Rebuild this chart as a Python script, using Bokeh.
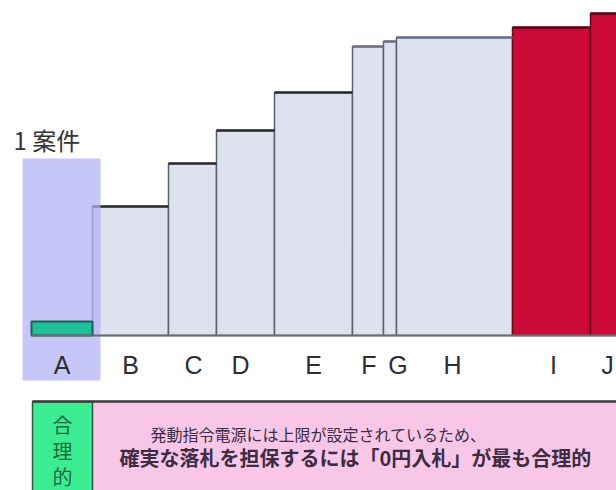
from bokeh.plotting import figure
from bokeh.models import Range1d, ColumnDataSource
from bokeh.core.properties import value
from bokeh.embed import file_html
from bokeh.resources import INLINE
import numpy as np

# Merit-order staircase: offers sorted by price, width = capacity
items = ["A", "B", "C", "D", "E", "F", "G", "H", "I", "J"]
capacity = [61, 76, 48, 58, 78, 31, 13, 116, 78, 34]
price = [14, 129, 172, 205, 243, 289, 294, 298, 308, 322]
group = ["own", "won", "won", "won", "won", "won", "won", "won", "lost", "lost"]
label_shift = [0, 0, 1, -5, 0, 1, 8, -2, 2, 0]

side_note = "1 案件"
verdict = "合理的"
note_lines = ["発動指令電源には上限が設定されているため、",
              "確実な落札を担保するには「0円入札」が最も合理的"]

start = 31
right = start + np.cumsum(capacity)
left = right - np.array(capacity)
center = (left + right) / 2

fill_map = {"own": "#1fbf9a", "won": "#dde2ee", "lost": "#cc0a38"}
edge_map = {"own": "#1d5e58", "won": "#5a6070", "lost": "#6a0a1c"}
top_map = ["#1d5e58", "#2a2a2a", "#2a2a2a", "#2a2a2a", "#2a2a2a",
           "#6a7282", "#6a7282", "#6a7282", "#5a0614", "#5a0614"]

src = ColumnDataSource(dict(
    left=left, right=right, top=price, bottom=[0] * len(items),
    fill=[fill_map[g] for g in group], edge=[edge_map[g] for g in group],
    topc=top_map, item=items, lx=center + np.array(label_shift),
    ly=[-29] * len(items),
))

p = figure(width=616, height=490, x_range=Range1d(0, 616), y_range=Range1d(-155, 335),
           toolbar_location=None, output_backend="svg", min_border=0,
           background_fill_color="white", border_fill_color="white")
p.axis.visible = False
p.grid.visible = False
p.outline_line_color = None

# price steps (everything except the highlighted own offer)
steps = ColumnDataSource({k: v[1:] for k, v in src.data.items()})
p.quad(left="left", right="right", top="top", bottom="bottom", source=steps,
       fill_color="fill", line_color="edge", line_width=1.5)
p.segment(x0="left", x1="right", y0="top", y1="top", source=steps,
          line_color="topc", line_width=2.5)

# highlight band around the single own offer
p.quad(left=[22], right=[100], top=[177], bottom=[-45],
       fill_color="#b0b0f6", fill_alpha=0.72, line_color=None)

own = ColumnDataSource({k: v[:1] for k, v in src.data.items()})
p.quad(left="left", right="right", top="top", bottom="bottom", source=own,
       fill_color="fill", line_color="edge", line_width=2)

# baseline
p.segment(x0=[left[0]], x1=[616], y0=[0], y1=[0], line_color="#6e6e6e", line_width=2)

# category labels
p.text(x="lx", y="ly", text="item", source=src, text_align="center",
       text_baseline="middle", text_font=value("Liberation Sans"),
       text_font_size="25px", text_color="#2e2e2e")

p.text(x=[13], y=[196], text=[side_note], text_align="left", text_baseline="middle",
       text_font=value("Noto Sans CJK JP"), text_font_size="24px", text_color="#333333")

# conclusion panel
p.quad(left=[92], right=[620], top=[-66], bottom=[-160],
       fill_color="#f8c6e6", line_color=None)
p.quad(left=[32], right=[92], top=[-66], bottom=[-160],
       fill_color="#3cec92", line_color="#265a3a", line_width=1.5)
p.segment(x0=[32], x1=[616], y0=[-66], y1=[-66], line_color="#3a3a3a", line_width=2.5)

p.text(x=[62, 62, 62], y=[-89, -115, -141], text=list(verdict), text_align="center",
       text_baseline="middle", text_font=value("Noto Sans CJK JP"),
       text_font_size="20px", text_color="#1e6a40")

p.text(x=[150], y=[-98], text=[note_lines[0]], text_align="left", text_baseline="middle",
       text_font=value("Noto Sans CJK JP"), text_font_size="16px", text_color="#3c2c44")
p.text(x=[119], y=[-122], text=[note_lines[1]], text_align="left", text_baseline="middle",
       text_font=value("Noto Sans CJK JP"), text_font_size="20px",
       text_font_style="bold", text_color="#3c2c44")

open("out.html", "w").write(file_html(p, INLINE))
